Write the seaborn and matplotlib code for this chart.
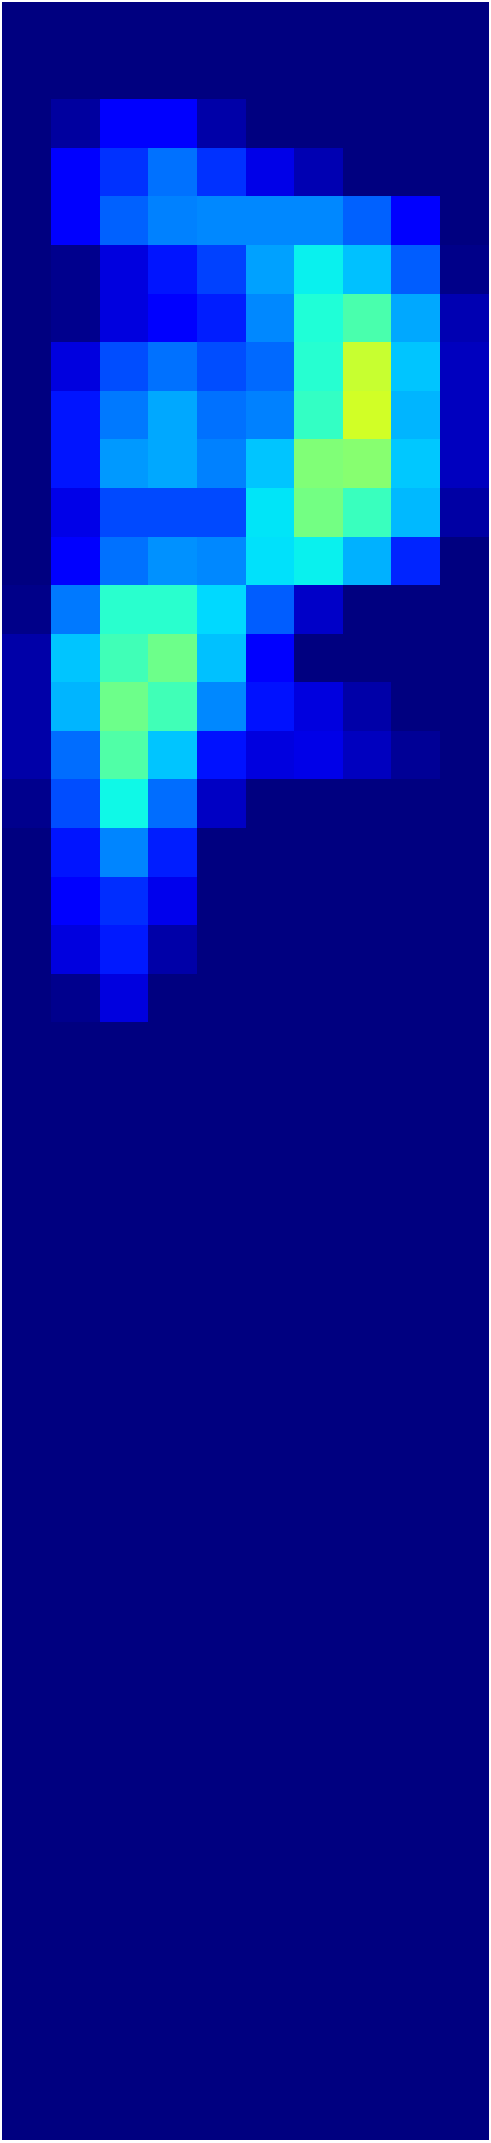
import numpy as np
import pandas as pd
import matplotlib
matplotlib.use("Agg")
import matplotlib.pyplot as plt
import seaborn as sns

n_rows = 44
n_cols = 10
columns = [f"c{i}" for i in range(n_cols)]

# Values (0-100 scale), rows listed top to bottom
row_02 = [0, 2.8, 11.5, 11.5, 3.7, 0, 0, 0, 0, 0]
row_03 = [0, 11.5, 17.5, 23.5, 17.5, 9.0, 4.6, 0, 0, 0]
row_04 = [0, 11.5, 21.9, 25.0, 26.0, 26.0, 26.0, 21.9, 11.5, 0]
row_05 = [0, 1.4, 8.3, 14.8, 18.8, 28.2, 36.0, 31.3, 21.5, 0.9]
row_06 = [0, 1.4, 8.3, 11.5, 15.6, 26.0, 38.9, 44.0, 29.0, 4.6]
row_07 = [0, 8.3, 20.3, 23.5, 20.3, 22.7, 39.5, 59.3, 31.7, 5.6]
row_08 = [0, 14.8, 24.3, 29.0, 23.5, 25.0, 41.4, 60.3, 30.1, 5.6]
row_09 = [0, 14.8, 27.4, 29.0, 25.0, 31.7, 50.6, 51.5, 32.1, 5.6]
row_10 = [0, 9.0, 19.6, 19.6, 19.6, 34.9, 49.1, 42.0, 30.5, 3.5]
row_11 = [0, 11.5, 23.5, 26.6, 26.0, 34.5, 36.3, 29.7, 16.4, 0]
row_12 = [0.9, 24.3, 39.9, 39.9, 33.7, 21.5, 6.6, 0, 0, 0]
row_13 = [3.7, 31.7, 42.8, 48.1, 31.3, 11.5, 0, 0, 0, 0]
row_14 = [3.7, 30.1, 48.1, 42.8, 26.0, 14.1, 8.3, 3.7, 0, 0]
row_15 = [3.7, 23.1, 44.7, 31.7, 14.1, 8.3, 9.0, 5.6, 2.1, 0]
row_16 = [1.4, 20.3, 36.9, 23.1, 6.2, 0, 0, 0, 0, 0]
row_17 = [0, 14.5, 25.4, 15.6, 0, 0, 0, 0, 0, 0]
row_18 = [0, 11.5, 16.8, 9.7, 0, 0, 0, 0, 0, 0]
row_19 = [0, 8.3, 15.2, 3.7, 0, 0, 0, 0, 0, 0]
row_20 = [0, 1.4, 8.3, 0, 0, 0, 0, 0, 0, 0]

filled = {
    2: row_02, 3: row_03, 4: row_04, 5: row_05, 6: row_06, 7: row_07,
    8: row_08, 9: row_09, 10: row_10, 11: row_11, 12: row_12, 13: row_13,
    14: row_14, 15: row_15, 16: row_16, 17: row_17, 18: row_18, 19: row_19,
    20: row_20,
}

table = [filled.get(i, [0] * n_cols) for i in range(n_rows)]
df = pd.DataFrame(table, columns=columns)

fig = plt.figure(figsize=(4.91, 21.43), dpi=100)
ax = fig.add_axes([2.3 / 491, 3 / 2143, 486.4 / 491, 2138 / 2143])
sns.heatmap(df, cmap="jet", vmin=0, vmax=100, cbar=False,
            xticklabels=False, yticklabels=False, ax=ax)
ax.set_xlabel("")
ax.set_ylabel("")
ax.axis("off")
fig.savefig("out.png", dpi=100)
